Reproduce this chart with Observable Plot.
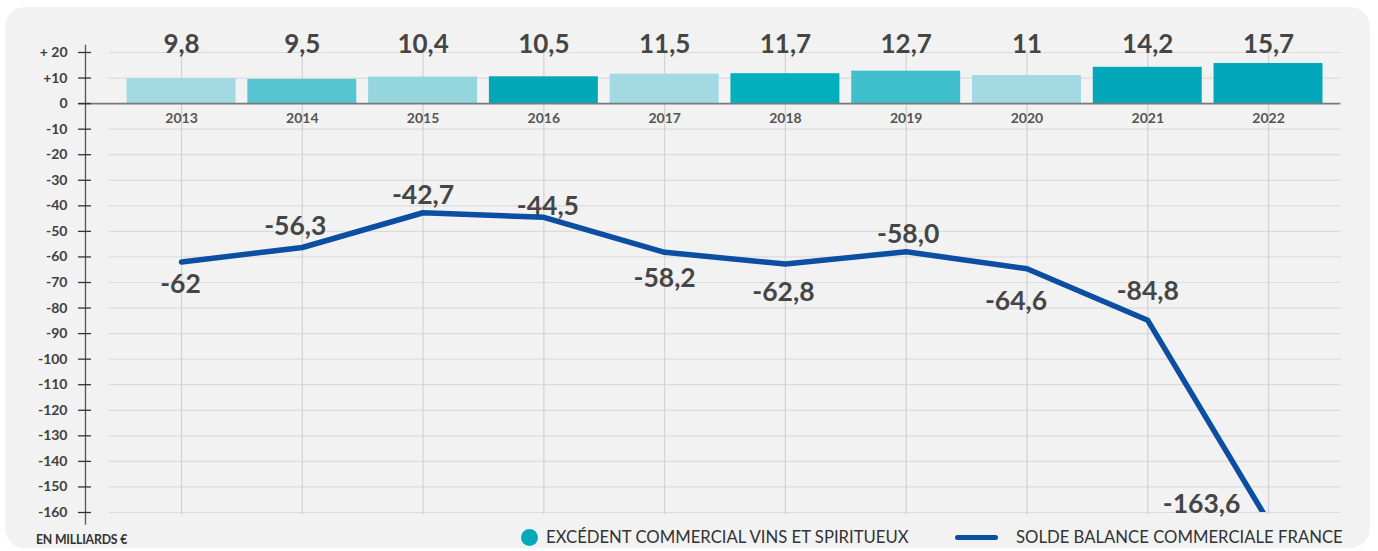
<!DOCTYPE html>
<html>
<head>
<meta charset="utf-8">
<script src="https://cdn.jsdelivr.net/npm/d3@7"></script>
<script src="https://cdn.jsdelivr.net/npm/@observablehq/plot@0.6"></script>
<style>
  html, body { margin: 0; padding: 0; background: #ffffff; }
  body { width: 1378px; height: 551px; position: relative; overflow: hidden; font-family: Lato, "Open Sans", sans-serif; }
  #card { position: absolute; left: 5px; top: 7px; width: 1365px; height: 541px; background: #f2f2f2; border-radius: 20px; }
  #chart { position: absolute; left: 0; top: 0; }
  #legend { position: absolute; left: 0; top: 527px; width: 1378px; height: 22px; }
  .unit { position: absolute; left: 36px; top: 5px; font-size: 12.3px; font-weight: 700; color: #333; letter-spacing: -0.2px; }
  .item { position: absolute; top: 0; display: flex; align-items: center; height: 20px; font-size: 16.7px; color: #333; white-space: nowrap; }
  .dot { width: 17px; height: 17px; border-radius: 50%; background: #03a9b9; margin-right: 8px; }
  .seg { width: 43px; height: 5px; border-radius: 3px; background: #0b4ea2; margin-right: 18px; }
</style>
</head>
<body>
<div id="card"></div>
<div id="chart"></div>
<div id="legend"></div>
<script>
// ---- data ----
const years = [2013, 2014, 2015, 2016, 2017, 2018, 2019, 2020, 2021, 2022];
const wineSurplus = [9.8, 9.5, 10.4, 10.5, 11.5, 11.7, 12.7, 11, 14.2, 15.7];
const wineLabels = ["9,8", "9,5", "10,4", "10,5", "11,5", "11,7", "12,7", "11", "14,2", "15,7"];
const tradeBalance = [-62, -56.3, -42.7, -44.5, -58.2, -62.8, -58.0, -64.6, -84.8, -163.6];
const balanceLabels = ["-62", "-56,3", "-42,7", "-44,5", "-58,2", "-62,8", "-58,0", "-64,6", "-84,8", "-163,6"];
const yTicks = [20, 10, 0, -10, -20, -30, -40, -50, -60, -70, -80, -90, -100, -110, -120, -130, -140, -150, -160];
const yTickLabels = ["+ 20", "+10", "0", "-10", "-20", "-30", "-40", "-50", "-60", "-70", "-80", "-90", "-100", "-110", "-120", "-130", "-140", "-150", "-160"];
const legendLabels = ["EXCÉDENT COMMERCIAL VINS ET SPIRITUEUX", "SOLDE BALANCE COMMERCIALE FRANCE"];
const unitLabel = "EN MILLIARDS €";

// ---- styling ----
const barColors = ["#a2d9e2", "#56c4d1", "#94d5de", "#02a8b8", "#a2d9e2", "#02b0bd", "#40bfcc", "#a2d9e2", "#02a8b9", "#02a8b9"];
const labelOffsets = [[-1, 22], [-7, -21], [0, -17], [4, -11], [0, 26], [-2, 28], [2, -17], [-11, 33], [0, -29], [-67, -17]];

const bars = years.map((y, i) => ({year: y, value: wineSurplus[i], label: wineLabels[i], color: barColors[i]}));
const pts = years.map((y, i) => ({year: y, value: tradeBalance[i], label: balanceLabels[i], dx: labelOffsets[i][0], dy: labelOffsets[i][1]}));
const tickFmt = new Map(yTicks.map((t, i) => [t, yTickLabels[i]]));

const xMin = 2012.205, xMax = 2022.6;
const half = 0.451;
const textColor = "#454545";

const marks = [
  // horizontal gridlines
  Plot.ruleY(yTicks.filter(t => t !== 0), {x1: 2012.4, x2: xMax, stroke: "#dcdcdc", strokeWidth: 1.2}),
  // vertical gridlines
  Plot.ruleX(years, {y1: 20, y2: -161, stroke: "#d2d2d2", strokeWidth: 1.2}),
  // bars
  Plot.rectY(bars, {x1: d => d.year - half, x2: d => d.year + half, y1: 0, y2: "value", fill: "color"}),
  // zero line
  Plot.ruleY([0], {x1: 2012.15, x2: xMax, stroke: "#7a7a7a", strokeWidth: 1.6}),
  // y axis line
  Plot.ruleX([xMin], {y1: 22.8, y2: -165, stroke: "#555", strokeWidth: 1.3}),
  Plot.axisY({ticks: yTicks, tickFormat: d => tickFmt.get(d), tickSize: 13, tickPadding: 11, dx: 6, label: null,
    stroke: "#333", strokeWidth: 1.3, fill: "#404040", fontSize: 14, fontWeight: 700}),
  // year labels
  Plot.text(years, {x: d => d, y: 0, dy: 15, text: d => String(d), fontSize: 14, fontWeight: 700, fill: "#555"}),
  // bar value labels
  Plot.text(bars, {x: "year", y: 20, dy: -8, text: "label", fontSize: 26, fontWeight: 700, fill: textColor}),
  // trade balance line
  Plot.line(pts, {x: "year", y: "value", stroke: "#0b4ea2", strokeWidth: 5.5, strokeLinejoin: "round", strokeLinecap: "round", clip: true}),
  // line labels
  ...pts.map(p => Plot.text([p], {x: "year", y: "value", dx: p.dx, dy: p.dy, text: "label", fontSize: 26.5, fontWeight: 700, fill: textColor}))
];

const chart = Plot.plot({
  width: 1378,
  height: 526,
  marginLeft: 85,
  marginRight: 1378 - 1340.5,
  marginTop: 52,
  marginBottom: 14,
  style: {background: "transparent", fontFamily: "Lato, sans-serif", overflow: "visible"},
  x: {type: "linear", domain: [xMin, xMax], axis: null},
  y: {domain: [-160, 20], axis: null},
  marks
});
document.getElementById("chart").appendChild(chart);

// legend row
const leg = document.getElementById("legend");
leg.innerHTML = `
  <div class="unit">${unitLabel}</div>
  <div class="item" style="left:521px"><div class="dot"></div><span class="t0">${legendLabels[0]}</span></div>
  <div class="item" style="left:955px"><div class="seg"></div><span class="t1">${legendLabels[1]}</span></div>`;
</script>
</body>
</html>
